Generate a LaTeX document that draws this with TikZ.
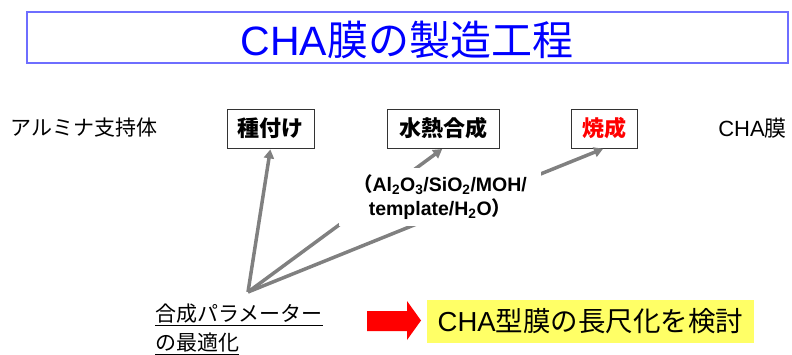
\documentclass[tikz,border=0pt]{standalone}
\usepackage{fontspec}
\setmainfont{Liberation Sans}
\newfontfamily\cjk{Noto Sans CJK JP}
\newfontfamily\lat{Liberation Sans}
\usetikzlibrary{arrows.meta}
\definecolor{titleblue}{RGB}{0,0,255}
\definecolor{framebl}{RGB}{110,110,255}
\definecolor{arrgray}{RGB}{128,128,128}
\definecolor{hiyellow}{RGB}{255,255,102}
\begin{document}
\begin{tikzpicture}[x=1pt,y=-1pt,
  stepbox/.style={draw=black!80, line width=0.8pt, minimum height=39pt, inner sep=0pt,
    font=\fontsize{22}{24}\selectfont\cjk\bfseries},
  plain/.style={font=\fontsize{21}{24}\selectfont\cjk, inner sep=0pt},
  garrow/.style={draw=arrgray, line width=3.5pt, shorten >=1pt,
    -{Triangle[length=9pt,width=10pt]}},
  uline/.style={line width=1pt, black},
]
\useasboundingbox (0,0) rectangle (792,354);
% title
\node[draw=framebl, line width=1.2pt, minimum width=761pt, minimum height=51pt, inner sep=0pt] (title) at (407.5,37.5) {};
\node[text=titleblue, font=\fontsize{41}{44}\selectfont, inner sep=0pt] (titletext) at (407,39.5) {CHA{\cjk 膜の製造工程}};
% process row
\node[plain, anchor=west] (support) at (10,128) {アルミナ支持体};
\node[stepbox, minimum width=87pt] (seed) at (270.5,128.5) {種付け};
\node[stepbox, minimum width=112pt] (hydro) at (443,128.5) {水熱合成};
\node[stepbox, minimum width=66pt, text=red] (fire) at (604,128.5) {焼成};
\node[font=\fontsize{22}{24}\selectfont, inner sep=0pt] (cha) at (752.5,128) {CHA{\cjk 膜}};
% parameters
\coordinate (apex) at (248,292);
\draw[garrow] (apex) -- (seed.south);
\draw[garrow] (apex) -- (hydro.south);
\draw[garrow] (apex) -- (fire.south);
\node[fill=white, minimum width=202pt, minimum height=58pt, inner sep=0pt, align=center,
  font=\fontsize{19.5}{24.5}\selectfont\bfseries] (recipe) at (440,197)
  {{\cjk （}Al\textsubscript{2}O\textsubscript{3}/SiO\textsubscript{2}/MOH/\\template/H\textsubscript{2}O{\cjk ）}};
% bottom
\node[plain, anchor=base west] (p1) at (155,321) {合成パラメーター};
\node[plain, anchor=base west] (p2) at (155,350) {の最適化};
\draw[uline] ([yshift=-4pt]p1.base west) -- ([yshift=-4pt]p1.base east);
\draw[uline] ([yshift=-4pt]p2.base west) -- ([yshift=-4pt]p2.base east);
\fill[red] (367,311) -- (407,311) -- (407,301) -- (421,320.5) -- (407,340) -- (407,331) -- (367,331) -- cycle;
\node[fill=hiyellow, minimum width=327pt, minimum height=43pt, inner sep=0pt,
  font=\fontsize{27.5}{30}\selectfont\cjk] (goal) at (590.5,321.5)
  {{\lat CHA}型膜の長尺化を検討};
\end{tikzpicture}
\end{document}
